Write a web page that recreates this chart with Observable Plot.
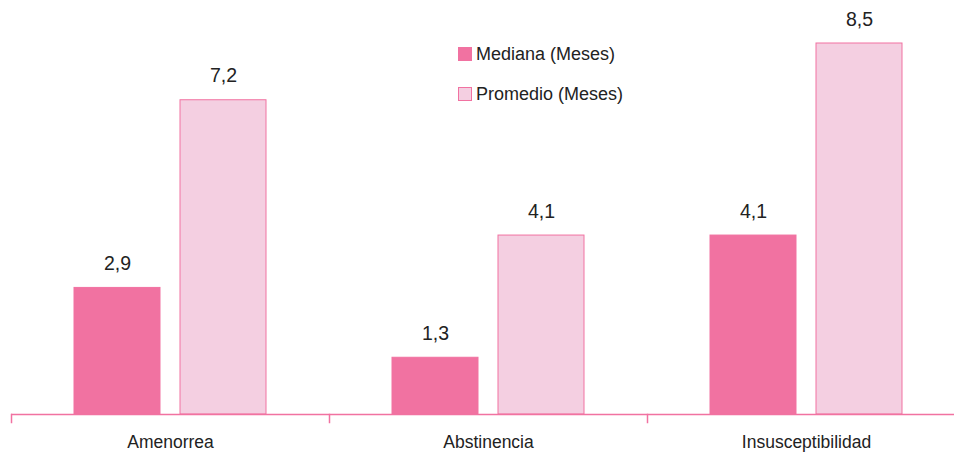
<!DOCTYPE html>
<html>
<head>
<meta charset="utf-8">
<script src="https://cdn.jsdelivr.net/npm/d3@7"></script>
<script src="https://cdn.jsdelivr.net/npm/@observablehq/plot@0.6"></script>
<style>
  body { margin: 0; background: white; }
  #wrap { position: relative; width: 954px; height: 454px; overflow: hidden; font-family: "Liberation Sans", Arial, sans-serif; }
  .legend { position: absolute; left: 458px; color: #222; font-size: 18px; line-height: 20px; height: 20px; display: flex; align-items: center; }
  .sw { width: 14px; height: 14px; margin-right: 4px; box-sizing: border-box; }
</style>
</head>
<body>
<div id="wrap"></div>
<script>
const categories = ["Amenorrea", "Abstinencia", "Insusceptibilidad"];
const seriesNames = ["Mediana (Meses)", "Promedio (Meses)"];
const mediana = [2.9, 1.3, 4.1];
const promedio = [7.2, 4.1, 8.5];
const colors = ["#f172a1", "#f4cfe1"];
const pink = "#f172a1";

const data = [];
categories.forEach((c, i) => {
  data.push({cat: c, series: seriesNames[0], value: mediana[i]});
  data.push({cat: c, series: seriesNames[1], value: promedio[i]});
});

const fmt = v => v.toFixed(1).replace(".", ",");

const chart = Plot.plot({
  width: 954,
  height: 454,
  marginLeft: 11,
  marginRight: -11,
  marginTop: 43,
  marginBottom: 40,
  style: {fontFamily: '"Liberation Sans", Arial, sans-serif', background: "white", overflow: "hidden"},
  fx: {domain: categories, padding: 0, tickSize: 0, tickPadding: 21, label: null, fontSize: 17.5},
  x: {domain: seriesNames, paddingInner: 0.1887, paddingOuter: 0.594, axis: null},
  y: {domain: [0, 8.5], axis: null},
  color: {domain: seriesNames, range: colors},
  marks: [
    Plot.barY(data, {fx: "cat", x: "series", y: "value", fill: "series", stroke: pink, strokeWidth: 1}),
    Plot.ruleY([0], {stroke: pink, strokeWidth: 1.5}),
    Plot.frame({anchor: "left", stroke: pink, strokeWidth: 1.5, insetTop: 371, insetBottom: -8}),
    Plot.text(data, {fx: "cat", x: "series", y: "value", text: d => fmt(d.value), dy: -24, fontSize: 19.5, fill: "#222"})
  ]
});
chart.querySelectorAll('g[aria-label="fx-axis tick label"]').forEach(e => { e.setAttribute("fill", "#222"); e.setAttribute("font-size", "17.5"); });

const wrap = document.getElementById("wrap");
wrap.appendChild(chart);

const legendRows = [
  {name: seriesNames[0], fill: colors[0], border: colors[0], top: 44},
  {name: seriesNames[1], fill: colors[1], border: pink, top: 84}
];
legendRows.forEach(r => {
  const d = document.createElement("div");
  d.className = "legend";
  d.style.top = r.top + "px";
  const s = document.createElement("span");
  s.className = "sw";
  s.style.background = r.fill;
  s.style.border = "1px solid " + r.border;
  d.appendChild(s);
  d.appendChild(document.createTextNode(r.name));
  wrap.appendChild(d);
});
</script>
</body>
</html>
